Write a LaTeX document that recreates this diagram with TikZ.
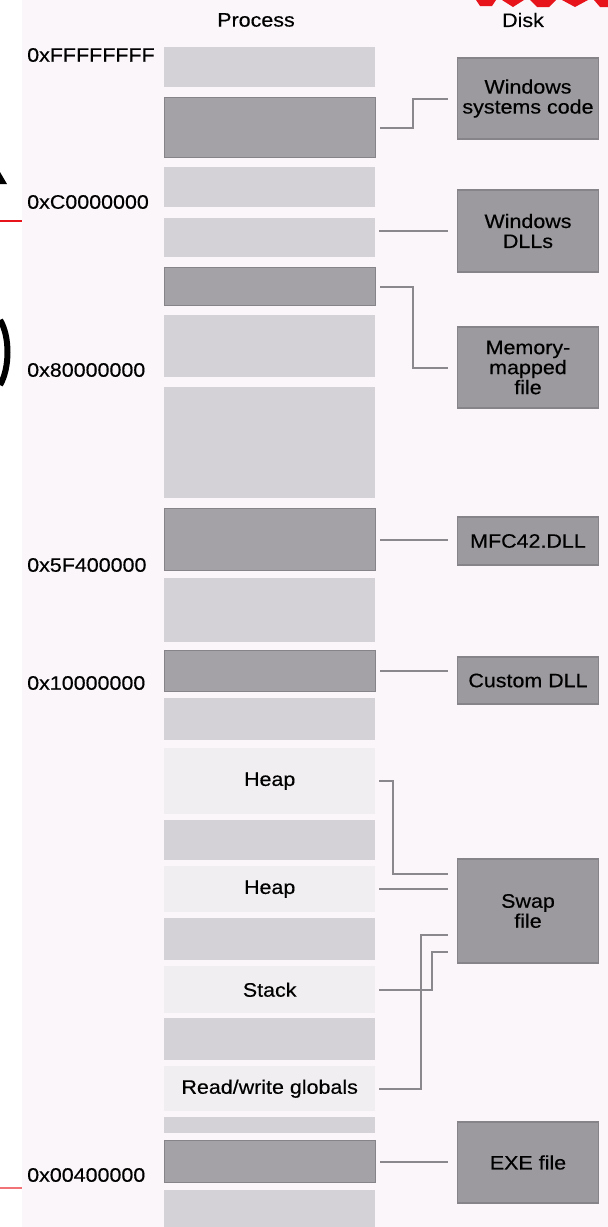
\documentclass[tikz,border=0pt]{standalone}
\usepackage{fontspec}
\setmainfont{Liberation Sans}[FakeStretch=1.1, FakeBold=0.4]
\usetikzlibrary{positioning}

\definecolor{pagebg}{RGB}{250,246,250}
\definecolor{lightmem}{RGB}{212,210,214}
\definecolor{darkmem}{RGB}{164,162,167}
\definecolor{darkedge}{RGB}{134,132,137}
\definecolor{freemem}{RGB}{240,238,241}
\definecolor{diskfill}{RGB}{156,154,158}
\definecolor{linkgray}{RGB}{138,136,140}
\definecolor{slidered}{RGB}{232,20,28}

\begin{document}
\begin{tikzpicture}[x=1pt, y=-1pt,
    every node/.style={font=\fontsize{19.5}{20}\selectfont, inner sep=0pt},
    mem/.style={anchor=north west, minimum width=211pt},
    light/.style={mem, fill=lightmem},
    dark/.style={mem, fill=darkmem, draw=darkedge, line width=1pt},
    free/.style={mem, fill=freemem},
    disk/.style={fill=diskfill, draw=darkedge, line width=1.2pt, minimum width=141pt, align=center},
    addr/.style={anchor=west},
    link/.style={draw=linkgray, line width=2pt, shorten <=4pt, shorten >=9pt}]
    \useasboundingbox (0,0) rectangle (608,1227);
    \fill[pagebg] (22,0) rectangle (608,1227);

    % bits of the slide around the scan
    \fill (0,172) -- (7,184) -- (0,184) -- cycle;
    \draw[slidered, line width=1.5pt] (0,221) -- (22,221);
    \draw[line width=6pt] (0,320) .. controls (10,336) and (10,368) .. (0,385);
    \draw[slidered!60, line width=1.5pt] (0,1188) -- (22,1188);
    \fill[slidered] (476,0) -- (496,0) -- (492,6) -- (480,6) -- cycle;
    \fill[slidered] (502,0) -- (524,0) -- (513,7) -- cycle;
    \fill[slidered] (530,0) -- (556,0) -- (549,7) -- (537,7) -- cycle;
    \fill[slidered] (562,0) -- (588,0) -- (575,7) -- cycle;
    \fill[slidered] (594,0) -- (608,0) -- (608,7) -- (600,7) -- cycle;

    \node (PROC) at (256,20) {Process};
    \node (DISK) at (523,20) {Disk};

    \node[addr] (AFFFF) at (27,55) {0xFFFFFFFF};
    \node[addr] (AC000) at (27,202) {0xC0000000};
    \node[addr] (A8000) at (27,370) {0x80000000};
    \node[addr] (A5F40) at (27,565) {0x5F400000};
    \node[addr] (A1000) at (27,683) {0x10000000};
    \node[addr] (A0040) at (27,1175) {0x00400000};

    % process address space
    \node[light, minimum height=40pt] (P1) at (164,47) {};
    \node[dark, minimum height=60pt] (P2) at (164,97) {};
    \node[light, minimum height=40pt] (P3) at (164,167) {};
    \node[light, minimum height=39pt] (P4) at (164,218) {};
    \node[dark, minimum height=38pt] (P5) at (164,267) {};
    \node[light, minimum height=62pt] (P6) at (164,315) {};
    \node[light, minimum height=111pt] (P7) at (164,387) {};
    \node[dark, minimum height=62pt] (P8) at (164,508) {};
    \node[light, minimum height=64pt] (P9) at (164,578) {};
    \node[dark, minimum height=41pt] (P10) at (164,650) {};
    \node[light, minimum height=42pt] (P11) at (164,698) {};
    \node[free, minimum height=66pt] (HEAPA) at (164,748) {Heap};
    \node[light, minimum height=40pt] (P13) at (164,820) {};
    \node[free, minimum height=46pt] (HEAPB) at (164,866) {Heap};
    \node[light, minimum height=42pt] (P15) at (164,918) {};
    \node[free, minimum height=47pt] (STACK) at (164,966) {Stack};
    \node[light, minimum height=42pt] (P17) at (164,1018) {};
    \node[free, minimum height=45pt] (RW) at (164,1066) {Read/write globals};
    \node[light, minimum height=16pt] (P19) at (164,1117) {};
    \node[dark, minimum height=42pt] (P20) at (164,1140) {};
    \node[light, minimum height=37pt] (P21) at (164,1190) {};

    % disk
    \node[disk, minimum height=81pt] (SYS) at (528,98.5) {Windows\\systems code};
    \node[disk, minimum height=82pt] (DLLS) at (528,231) {Windows\\DLLs};
    \node[disk, minimum height=81pt] (MMF) at (528,367.5) {Memory-\\mapped\\file};
    \node[disk, minimum height=48pt] (MFC) at (528,541) {MFC42.DLL};
    \node[disk, minimum height=47pt] (CDLL) at (528,680.5) {Custom DLL};
    \node[disk, minimum height=104pt] (SWAP) at (528,911) {Swap\\file};
    \node[disk, minimum height=81pt] (EXE) at (528,1162.5) {EXE file};

    \draw[link] (P2.east) -- ++(37,0) |- (SYS.west);
    \draw[link] (P4.east |- DLLS.west) -- (DLLS.west);
    \draw[link] (P5.east) -- ++(37,0) |- (MMF.west);
    \draw[link] (P8.east) -- (P8.east -| MFC.west);
    \draw[link] (P10.east) -- (P10.east -| CDLL.west);
    \draw[link] (HEAPA.east) -- ++(18,0) |- ([yshift=37pt]SWAP.west);
    \draw[link] (HEAPB.east) -- (HEAPB.east -| SWAP.west);
    \draw[link] (STACK.east) -- ++(57,0) |- ([yshift=-41pt]SWAP.west);
    \draw[link] (RW.east) -- ++(46,0) |- ([yshift=-24pt]SWAP.west);
    \draw[link] (P20.east) -- (P20.east -| EXE.west);
\end{tikzpicture}
\end{document}
